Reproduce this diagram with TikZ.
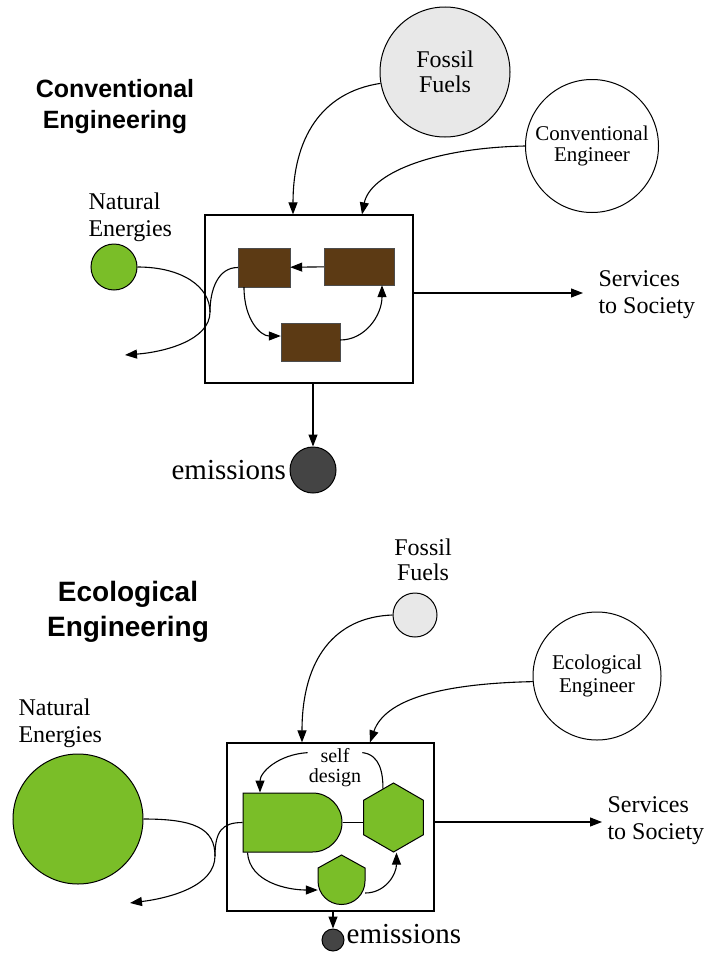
\documentclass[tikz,border=0pt]{standalone}
\usepackage{fontspec}
\setmainfont{Liberation Serif}
\newfontfamily\headfont{Liberation Sans}
\usetikzlibrary{arrows.meta,shapes.geometric,shapes.misc}

\definecolor{leaf}{RGB}{122,190,40}
\definecolor{bark}{RGB}{92,58,20}
\definecolor{fossil}{RGB}{232,232,232}
\definecolor{smoke}{RGB}{68,68,68}

\begin{document}
\begin{tikzpicture}[x=1pt, y=-1pt,
    source/.style={circle, draw, line width=1pt, inner sep=0pt, align=center},
    block/.style={rectangle, draw=black!70, fill=bark, inner sep=0pt},
    greenpart/.style={draw, line width=1pt, fill=leaf, inner sep=0pt},
    sysbox/.style={rectangle, draw, line width=1.2pt, inner sep=0pt},
    flow/.style={-{Triangle[length=12pt,width=9pt]}, line width=1.1pt},
    pipe/.style={line width=1.1pt},
    note/.style={align=left, font=\fontsize{24}{27}\selectfont},
    heading/.style={align=center, font=\headfont\bfseries\fontsize{25}{31}\selectfont}
]
\useasboundingbox (0,0) rectangle (710,953);

% Conventional engineering
\node[heading] (hdA) at (115,107) {Conventional\\Engineering};
\node[source, fill=fossil, minimum size=130, font=\fontsize{24}{25}\selectfont] (ffA) at (445,72) {Fossil\\Fuels};
\node[source, minimum size=133, font=\fontsize{21}{21}\selectfont] (ceA) at (592,146) {Conventional\\Engineer};
\node[source, fill=leaf, minimum size=46] (neA) at (114,267) {};
\node[note, anchor=west] (neAt) at (85,217) {Natural\\Energies};
\node[sysbox, minimum width=208, minimum height=168] (boxA) at (309,299) {};
\node[block, minimum width=52, minimum height=39] (bA1) at (264,267.5) {};
\node[block, minimum width=70, minimum height=37] (bA2) at (359,266.5) {};
\node[block, minimum width=59, minimum height=38] (bA3) at (310.5,342) {};
\node[source, fill=smoke, minimum size=46] (emA) at (313,470) {};
\node[anchor=east, font=\fontsize{29}{29}\selectfont] (emAt) at (emA.west) {emissions};
\node[note, anchor=west] (svA) at (595,295) {Services\\to Society};
\coordinate (loopA) at (210,312);
\coordinate (heatA) at (125,355);

\draw[flow] (ffA.190) .. controls +(-60,9) and +(0,-75) .. ([xshift=-16pt]boxA.north);
\draw[flow] (ceA.west) .. controls +(-95,2) and +(8,-40) .. ([xshift=53pt]boxA.north);
\draw[flow] (bA2) -- (bA1);
\draw[flow] ([xshift=-20pt]bA1.south) .. controls +(0,33) and +(-20,0) .. ([yshift=6pt]bA3.west);
\draw[flow] ([yshift=2pt]bA3.east) .. controls +(25,0) and +(0,30) .. ([xshift=23pt]bA2.south);
\draw[flow] (neA.east) .. controls +(45,0) and +(0,-25) .. (loopA) .. controls +(0,28) and +(40,-3) .. (heatA);
\draw[pipe] (bA1.west) .. controls +(-20,0) and +(0,-22) .. (loopA);
\draw[flow, shorten >=12pt] ([yshift=6pt]boxA.east) -- ([yshift=6pt]boxA.east -| svA.west);
\draw[flow] (boxA.south -| emA.north) -- (emA.north);

% Ecological engineering
\node[heading, font=\headfont\bfseries\fontsize{28}{35}\selectfont] (hdB) at (128,612) {Ecological\\Engineering};
\node[source, fill=fossil, minimum size=44] (ffB) at (415,615) {};
\node[align=center, font=\fontsize{24}{25}\selectfont] (ffBt) at (423,560) {Fossil\\Fuels};
\node[source, minimum size=128, font=\fontsize{21}{23}\selectfont] (eeB) at (597,676) {Ecological\\Engineer};
\node[source, fill=leaf, minimum size=130] (neB) at (78,819) {};
\node[note, anchor=west] (neBt) at (15,723) {Natural\\Energies};
\node[sysbox, minimum width=207, minimum height=168] (boxB) at (330.5,827) {};
\node[greenpart, rounded rectangle, rounded rectangle west arc=none, minimum width=99, minimum height=59] (dB) at (292.5,822.5) {};
\node[greenpart, regular polygon, regular polygon sides=6, shape border rotate=30, minimum size=69] (hxB) at (393.5,817.5) {};
\filldraw[fill=leaf, line width=1pt] (341.5,855) -- (365,868) -- (365,881) arc[start angle=0, end angle=180, radius=23.5] -- (318,868) -- cycle;
\node[minimum width=47, minimum height=50, inner sep=0pt] (sB) at (341.5,880) {};
\node[align=center, inner sep=1pt, font=\fontsize{20}{20}\selectfont] (sdB) at (335,768) {self\\design};
\node[source, fill=smoke, minimum size=22] (emB) at (333,940) {};
\node[anchor=base west, inner sep=2pt, font=\fontsize{29}{29}\selectfont] (emBt) at ([yshift=-3pt]emB.east) {emissions};
\node[note, anchor=west] (svB) at (604,821) {Services\\to Society};
\coordinate (loopB) at (215,856);
\coordinate (heatB) at (130,903);

\draw[flow] (ffB.west) .. controls +(-58,2) and +(0,-83) .. ([xshift=-28.5pt]boxB.north);
\draw[flow] (eeB.185) .. controls +(-92,2) and +(15,-43) .. ([xshift=39.5pt]boxB.north);
\draw[flow] ([yshift=-5pt]sdB.north west) .. controls +(-30,2) and +(0,-20) .. ([xshift=-32.5pt]dB.north);
\draw[pipe] ([yshift=-5pt]sdB.north east) .. controls +(18,2) and +(0,-15) .. (hxB.110);
\draw[pipe] (dB.east) -- (dB.east -| hxB.west);
\draw[flow] ([xshift=-45pt]dB.south) .. controls +(2,30) and +(-30,0) .. ([yshift=-10pt]sB.west);
\draw[flow] ([yshift=-13pt]sB.east) .. controls +(20,0) and +(0,22) .. ([xshift=3pt]hxB.south);
\draw[flow] (neB.east) .. controls +(50,0) and +(0,-28) .. (loopB) .. controls +(0,30) and +(40,-5) .. (heatB);
\draw[pipe] (dB.west) .. controls +(-20,0) and +(0,-25) .. (loopB);
\draw[flow, shorten >=2pt] ([yshift=5pt]boxB.east) -- ([yshift=5pt]boxB.east -| svB.west);
\draw[flow] (boxB.south -| emB.north) -- (emB.north);

\end{tikzpicture}
\end{document}
